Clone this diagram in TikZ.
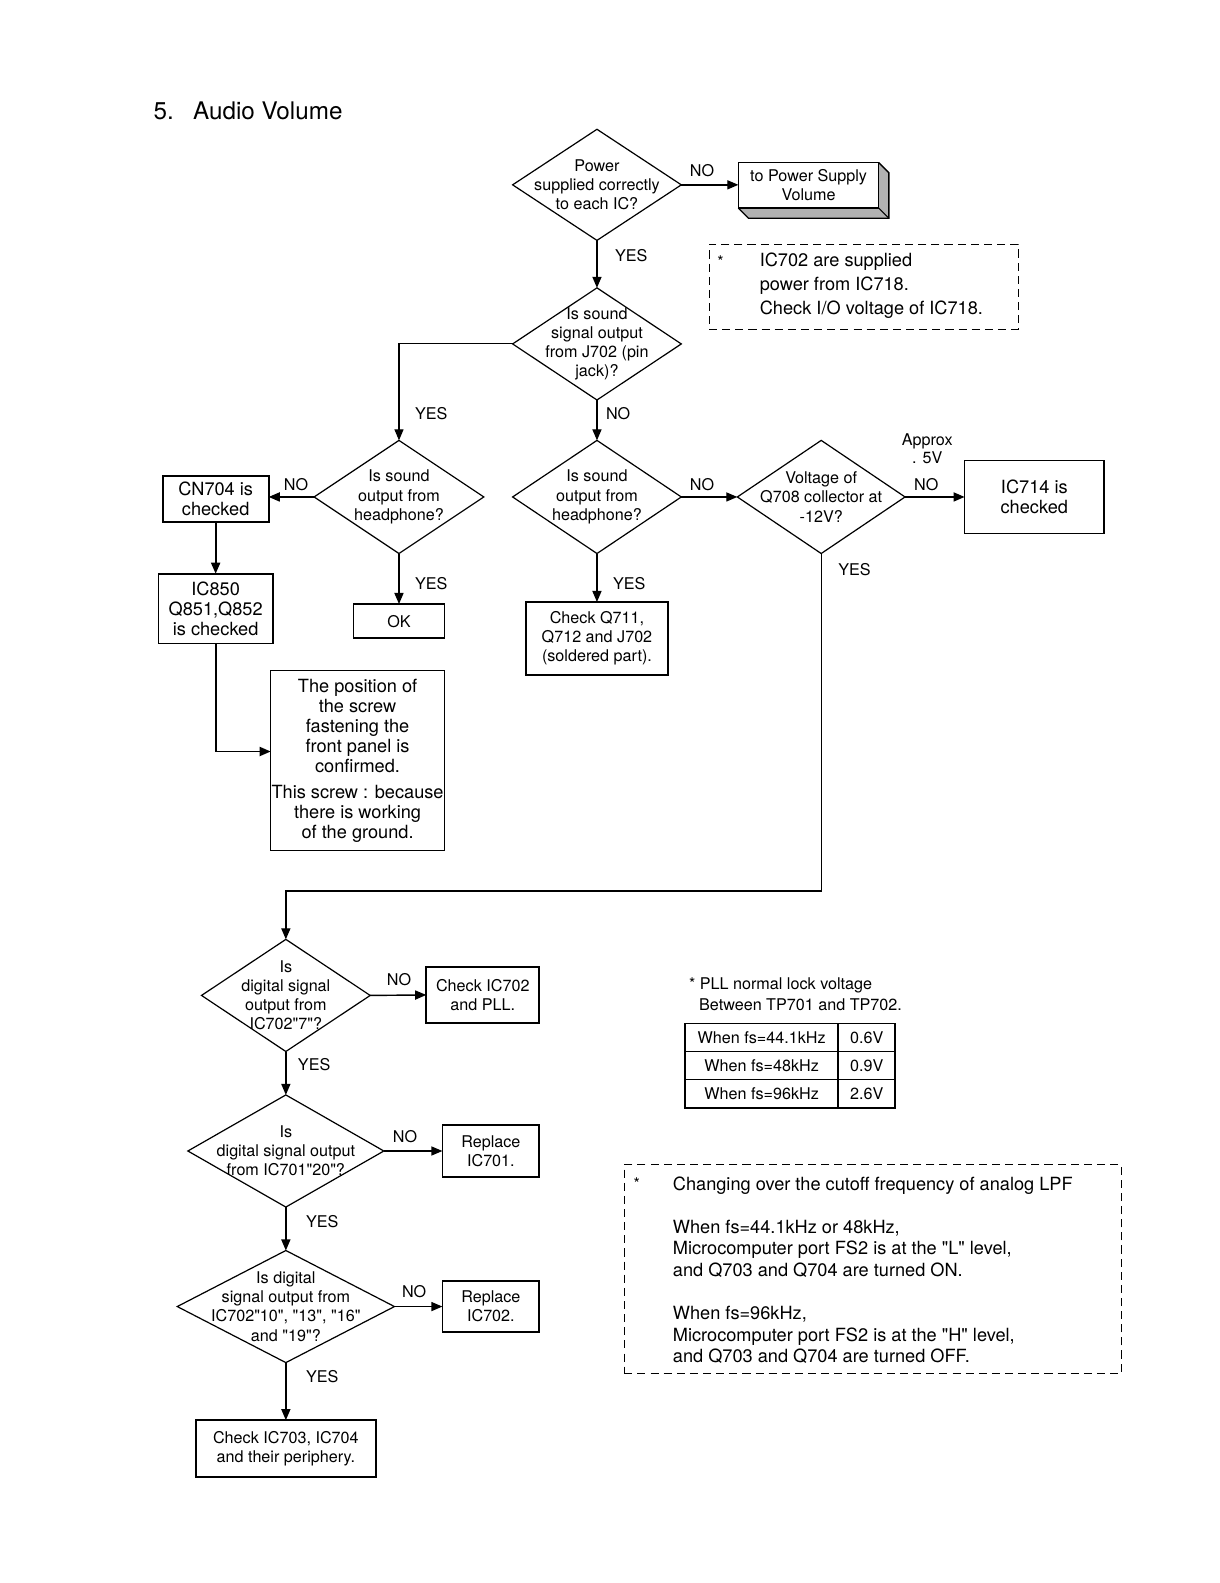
\documentclass[tikz,border=0pt]{standalone}
\usepackage{fontspec}
\setmainfont{TeX Gyre Heros}
\usetikzlibrary{shapes.geometric,arrows.meta,calc}
\newcommand\myfs[2]{\fontsize{#1}{#2}\selectfont}
\newcommand\qd{\textquotedbl}
\begin{document}
\begin{tikzpicture}[x=1pt,y=-1pt,
  dia/.style={diamond, draw, line width=1.2pt, inner sep=0pt, outer sep=0pt},
  dtxt/.style={align=center, font=\myfs{16}{19}, inner sep=0pt},
  box/.style={draw, line width=1.8pt, align=center, inner sep=0pt, outer sep=0pt, font=\myfs{16}{19}},
  bigbox/.style={draw, line width=1.1pt, align=center, inner sep=0pt, outer sep=0pt, font=\myfs{18}{20}},
  arr/.style={line width=1.4pt, -{Triangle[length=11pt,width=9pt]}},
  lbl/.style={font=\myfs{16}{18}, inner sep=0pt},
  note/.style={draw, dashed, dash pattern=on 8pt off 5pt, line width=1.1pt, inner sep=0pt, outer sep=0pt},
  cell/.style={draw, line width=1.3pt, inner sep=0pt, outer sep=0pt, minimum height=28pt, font=\myfs{16}{18}},
]
\fill[white] (0,0) rectangle (1207.8,1567.2);
\useasboundingbox (0,0) rectangle (1207.8,1567.2);

% title
\node[anchor=west, inner sep=0pt, font=\myfs{24}{28}] (title) at (152,110) {\makebox[39pt][l]{5.}Audio Volume};

% diamonds
\node[dia, minimum width=167pt, minimum height=110pt] (d1) at (591,183) {};
\node[dtxt] (t1) at (d1) {Power\\supplied correctly\\to each IC?};
\node[dia, minimum width=167pt, minimum height=111pt] (d2) at (591,340.5) {};
\node[dtxt] (t2) at (d2) {Is sound\\signal output\\from J702 (pin\\jack)?};
\node[dia, minimum width=168pt, minimum height=112pt] (d3) at (395,492) {};
\node[dtxt] (t3) at (d3) {Is sound\\output from\\headphone?};
\node[dia, minimum width=167pt, minimum height=112pt] (d4) at (591,492) {};
\node[dtxt] (t4) at (d4) {Is sound\\output from\\headphone?};
\node[dia, minimum width=166pt, minimum height=112pt] (d5) at (813,492) {};
\node[dtxt] (t5) at (d5) {Voltage of\\Q708 collector at\\-12V?};
\node[dia, minimum width=167pt, minimum height=111pt] (d6) at (283,985.5) {};
\node[dtxt] (t6) at (d6) {Is\\digital signal\\output from\\IC702\qd7\qd?};
\node[dia, minimum width=194pt, minimum height=111pt] (d7) at (283,1139.5) {};
\node[dtxt] (t7) at (d7) {Is\\digital signal output\\from IC701\qd20\qd?};
\node[dia, minimum width=215pt, minimum height=111pt] (d8) at (283,1293.5) {};
\node[dtxt] (t8) at (d8) {Is digital\\signal output from\\IC702\qd10\qd, \qd13\qd, \qd16\qd\\and \qd19\qd?};

% boxes
\node[box, line width=1.3pt, minimum width=139pt, minimum height=45pt] (pw) at (800.5,183.5) {to Power Supply\\Volume};
\fill[black!30] (pw.north east) -- ++(10,10) -- ($(pw.south east)+(10,10)$) -- ($(pw.south west)+(10,10)$) -- (pw.south west) -- (pw.south east) -- cycle;
\draw[line width=1.3pt] (pw.north east) -- ++(10,10) -- ($(pw.south east)+(10,10)$) -- ($(pw.south west)+(10,10)$) -- (pw.south west);
\draw[line width=1.1pt] (pw.south east) -- ++(10,10);
\draw[line width=1.3pt] (pw.north west) rectangle (pw.south east);

\node[box, font=\myfs{18}{20}, minimum width=105pt, minimum height=46pt] (cn) at (213.5,494) {CN704 is\\checked};
\node[box, font=\myfs{18}{20}, minimum width=113pt, minimum height=69pt] (ic850) at (213.5,602.5) {IC850\\Q851,Q852\\is checked};
\node[bigbox, minimum width=172pt, minimum height=178pt] (screw) at (354,753) {The position of\\the screw\\fastening the\\front panel is\\confirmed.\\[5pt]This screw : because\\there is working\\of the ground.};
\node[box, minimum width=90pt, minimum height=34pt] (ok) at (395,615) {OK};
\node[box, minimum width=140pt, minimum height=72pt] (q711) at (591,632) {Check Q711,\\Q712 and J702\\(soldered part).};
\node[bigbox, minimum width=138pt, minimum height=72pt] (ic714) at (1024,492) {IC714 is\\checked};
\node[box, minimum width=112pt, minimum height=56pt] (c702) at (478,985) {Check IC702\\and PLL.};
\node[box, minimum width=96pt, minimum height=51pt] (r701) at (486,1139.5) {Replace\\IC701.};
\node[box, minimum width=96pt, minimum height=51pt] (r702) at (486,1293.5) {Replace\\IC702.};
\node[box, minimum width=178pt, minimum height=56pt] (fin) at (283,1434) {Check IC703, IC704\\and their periphery.};

\coordinate (scrin) at (268,744);
\coordinate (turn) at (813,882);

% connectors
\draw[arr] (d1.east) -- (d1.east -| pw.west);
\draw[arr] (d1.south) -- (d2.north);
\draw[arr, line width=1.1pt] (d2.west) -| (d3.north);
\draw[arr] (d2.south) -- (d4.north);
\draw[arr] (d3.west) -- (d3.west -| cn.east);
\draw[arr, line width=1.8pt] (cn.south) -- (ic850.north);
\draw[arr, line width=1.8pt] (ic850.south) |- (scrin);
\draw[arr] (d3.south) -- (ok.north);
\draw[arr] (d4.east) -- (d5.west);
\draw[arr] (d4.south) -- (q711.north);
\draw[arr] (d5.east) -- (ic714.west);
\draw[arr] (d5.south) -- (turn) -| (d6.north);
\draw[arr] (d6.east) -- (c702.west);
\draw[arr] (d6.south) -- (d7.north);
\draw[arr] (d7.east) -- (r701.west);
\draw[arr] (d7.south) -- (d8.north);
\draw[arr] (d8.east) -- (r702.west);
\draw[arr] (d8.south) -- (fin.north);

% labels
\node[lbl] (l1) at (695,169) {NO};
\node[lbl] (l2) at (625,253) {YES};
\node[lbl] (l3) at (427,409) {YES};
\node[lbl] (l4) at (612,409) {NO};
\node[lbl] (l5) at (293,480) {NO};
\node[lbl] (l6) at (427,578) {YES};
\node[lbl] (l7) at (695,480) {NO};
\node[lbl] (l8) at (623,578) {YES};
\node[lbl] (l9) at (917,480) {NO};
\node[lbl] (l10) at (846,564) {YES};
\node[lbl] (l11) at (395,970) {NO};
\node[lbl] (l12) at (311,1054) {YES};
\node[lbl] (l13) at (401,1125) {NO};
\node[lbl] (l14) at (319,1209) {YES};
\node[lbl] (l15) at (410,1279) {NO};
\node[lbl] (l16) at (319,1363) {YES};
\node[lbl, align=center] (l17) at (918,444) {Approx\\. 5V};

% note 1
\node[note, minimum width=306pt, minimum height=84pt] (n1) at (855,284) {};
\node[anchor=west, inner sep=0pt, font=\myfs{16}{18}] (n1s) at (710,259) {*};
\node[anchor=west, align=left, inner sep=0pt, font=\myfs{18}{24}] (n1t) at (752,283) {IC702 are supplied\\power from IC718.\\Check I/O voltage of IC718.};

% PLL note and table
\node[anchor=west, inner sep=0pt, font=\myfs{16}{19}] (p1) at (682,976) {* PLL normal lock voltage};
\node[anchor=west, inner sep=0pt, font=\myfs{16}{19}] (p2) at (692,995) {Between TP701 and TP702.};
\node[cell, minimum width=152pt] (a1) at (754,1027) {When fs=44.1kHz};
\node[cell, minimum width=56pt] (b1) at (858,1027) {0.6V};
\node[cell, minimum width=152pt] (a2) at (754,1055) {When fs=48kHz};
\node[cell, minimum width=56pt] (b2) at (858,1055) {0.9V};
\node[cell, minimum width=152pt] (a3) at (754,1083) {When fs=96kHz};
\node[cell, minimum width=56pt] (b3) at (858,1083) {2.6V};
\draw[line width=2pt] (a1.north east) -- (a3.south east);

% note 2
\node[note, minimum width=492pt, minimum height=207pt] (n2) at (864,1256.5) {};
\node[anchor=west, inner sep=0pt, font=\myfs{16}{18}] (n2s) at (627,1172) {*};
\node[anchor=west, align=left, inner sep=0pt, font=\myfs{18}{21.4}] (n2t) at (666,1257.5) {Changing over the cutoff frequency of analog LPF\\[21.4pt]When fs=44.1kHz or 48kHz,\\Microcomputer port FS2 is at the \qd L\qd{} level,\\and Q703 and Q704 are turned ON.\\[21.4pt]When fs=96kHz,\\Microcomputer port FS2 is at the \qd H\qd{} level,\\and Q703 and Q704 are turned OFF.};
\end{tikzpicture}
\end{document}
